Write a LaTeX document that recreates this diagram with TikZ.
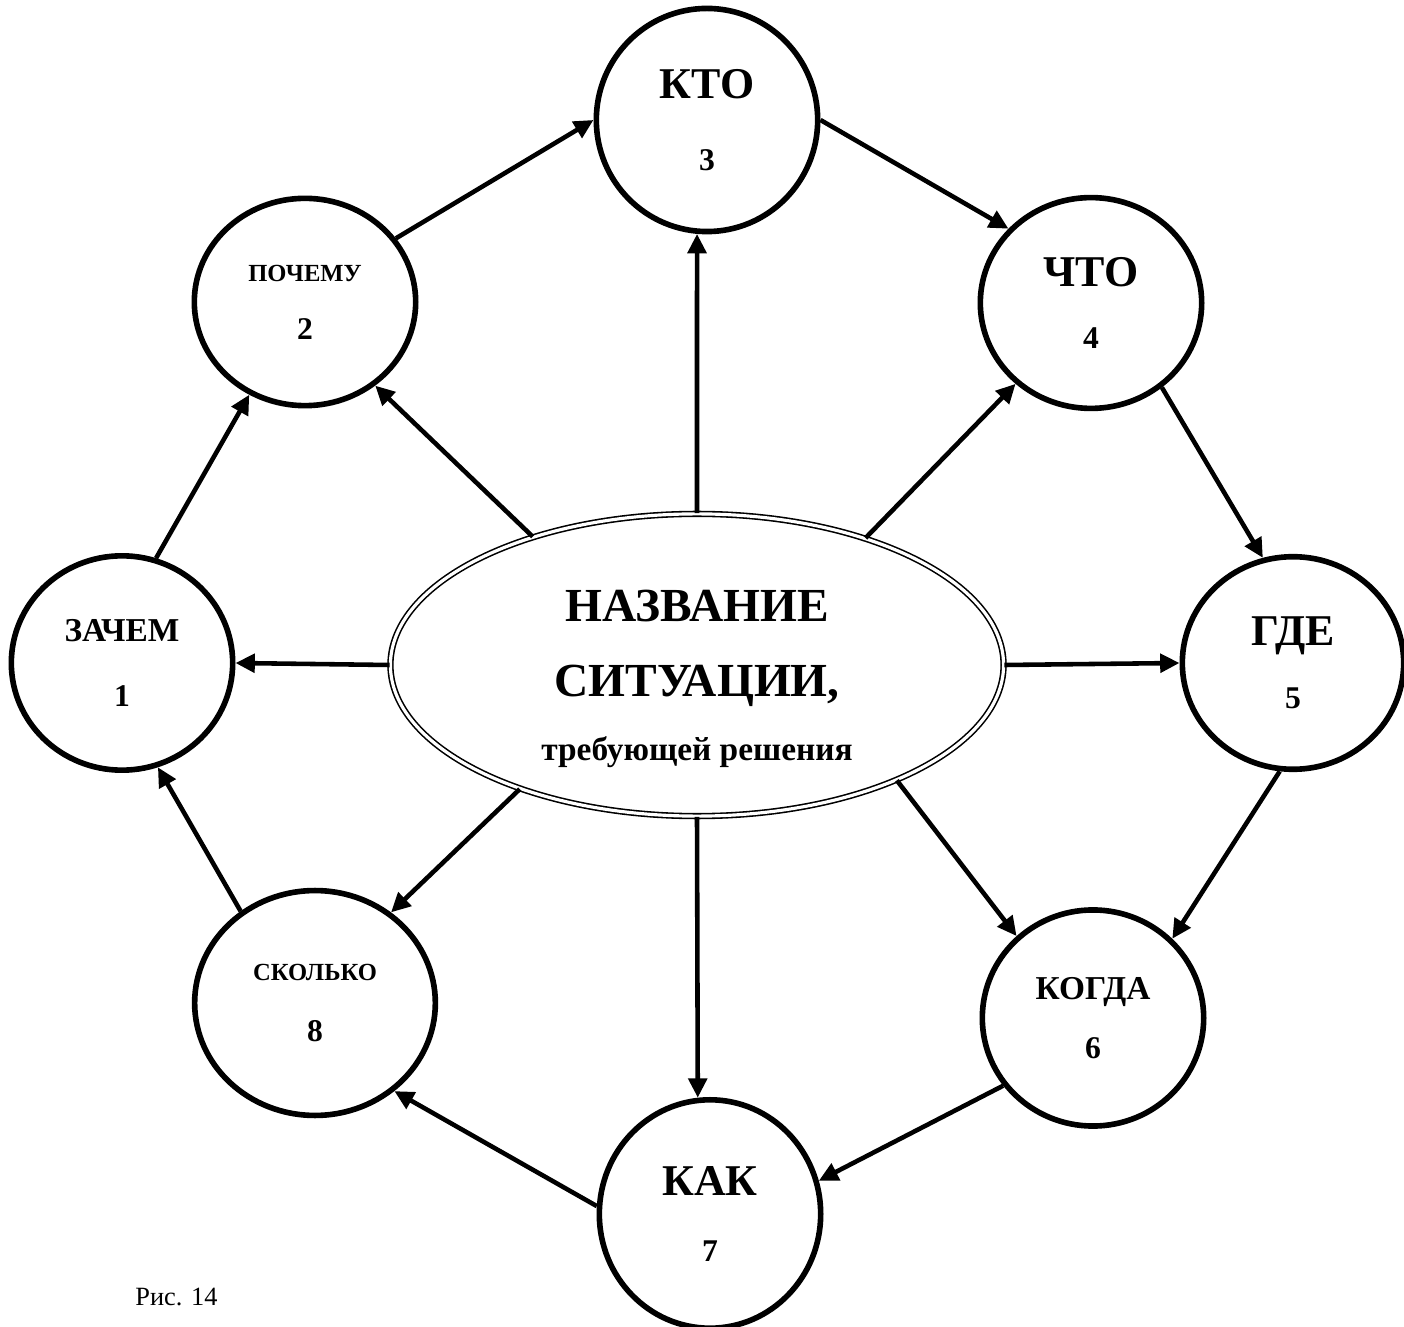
\documentclass[tikz,border=0pt]{standalone}
\usepackage{fontspec}
\setmainfont{Liberation Serif}
\usetikzlibrary{shapes.geometric,arrows.meta}

\begin{document}
\begin{tikzpicture}[x=0.02cm,y=-0.02cm,
    q/.style={draw,ellipse,line width=3.2pt,inner sep=0pt,minimum width=126pt,minimum height=122pt,
      align=center,font=\bfseries\fontsize{18}{20}\selectfont},
    sit/.style={draw,ellipse,double,line width=0.9pt,double distance=1.8pt,inner sep=0pt,
      minimum width=349pt,minimum height=172pt},
    arr/.style={line width=2.6pt,-{Triangle[length=11pt,width=10.5pt]}}]
    \useasboundingbox (0,0) rectangle (1404,1327);
    % situation in the middle
    \path (697,665) node[sit] (c) {};
    \path (697,679) node[align=center,inner sep=0pt,font=\bfseries\fontsize{27}{30}\selectfont] (title)
      {НАЗВАНИЕ\\[12.5pt]СИТУАЦИИ,\\[6.5pt]{\fontsize{19}{22}\selectfont требующей решения}};
    % the eight questions
    \path (122,663) node[q] (q1) {{\fontsize{19}{20}\selectfont ЗАЧЕМ}\\[17pt]1};
    \path (305,302) node[q,minimum height=118pt] (q2) {{\fontsize{14}{14}\selectfont ПОЧЕМУ}\\[13pt]2};
    \path (707,120) node[q,minimum height=127pt] (q3) {{\fontsize{25}{25}\selectfont КТО}\\[21pt]3};
    \path (1091,303) node[q,minimum height=120pt] (q4) {{\fontsize{25}{25}\selectfont ЧТО}\\[15pt]4};
    \path (1293,663) node[q,minimum height=121pt] (q5) {{\fontsize{25}{25}\selectfont ГДЕ}\\[16pt]5};
    \path (1093,1018) node[q,minimum height=123pt] (q6) {{\fontsize{19}{20}\selectfont КОГДА}\\[14pt]6};
    \path (710,1214) node[q,minimum height=130pt] (q7) {{\fontsize{25}{25}\selectfont КАК}\\[17pt]7};
    \path (315,1003) node[q,minimum width=137pt,minimum height=128pt] (q8) {{\fontsize{14}{14}\selectfont СКОЛЬКО}\\[14.5pt]8};
    \path (135,1305) node[anchor=base west,inner sep=0pt,font=\fontsize{15}{18}\selectfont] (fig) {Рис. 14};
    % around the ring
    \draw[arr] (q1.72) -- (q2.239);
    \draw[arr] (q2.35) -- (q3.west);
    \draw[arr] (q3.east) -- (q4.138);
    \draw[arr] (q4.-50) -- (q5.106);
    \draw[arr] (q5.263) -- (q6.45);
    \draw[arr] (q6.217) -- (q7.17);
    \draw[arr] (q7.176) -- (q8.312);
    \draw[arr] (q8.129) -- (q1.289);
    % from the middle
    \draw[arr] (c.west) -- (q1.east);
    \draw[arr] (c.142) -- (q2.310);
    \draw[arr] (c.north) -- (q3.265);
    \draw[arr] (c.37) -- (q4.227);
    \draw[arr] (c.east) -- (q5.west);
    \draw[arr] (c.330) -- (q6.133);
    \draw[arr] (c.south) -- (q7.96);
    \draw[arr] (c.215) -- (q8.50);
\end{tikzpicture}
\end{document}
